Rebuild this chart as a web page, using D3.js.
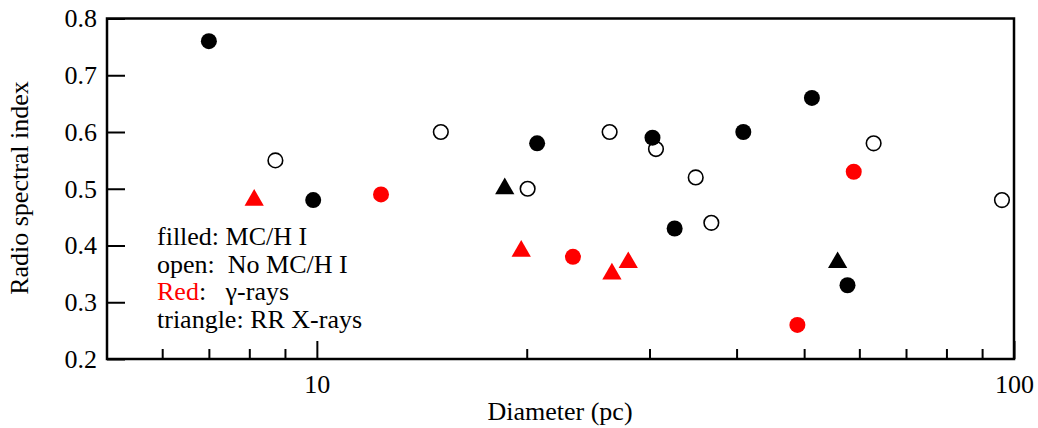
<!DOCTYPE html>
<html>
<head>
<meta charset="utf-8">
<script src="https://cdn.jsdelivr.net/npm/d3@7"></script>
<style>
  body { margin: 0; background: #fff; }
  text { font-family: "Liberation Serif", "Times New Roman", serif; }
</style>
</head>
<body>
<svg id="chart" width="1038" height="428"></svg>
<script>
// Remnants with molecular cloud / H I interaction (filled black circles)
const filledDiameter = [7.0, 9.88, 20.7, 30.3, 32.6, 40.9, 51.3, 57.7];
const filledIndex    = [0.76, 0.48, 0.58, 0.59, 0.43, 0.60, 0.66, 0.33];

// No molecular cloud / H I interaction (open circles)
const openDiameter = [8.72, 15.06, 20.06, 26.3, 30.65, 34.95, 36.8, 62.9, 96.1];
const openIndex    = [0.55, 0.60, 0.50, 0.60, 0.57, 0.52, 0.44, 0.58, 0.48];

// Gamma-ray detected remnants (red circles)
const gammaDiameter = [12.36, 23.3, 48.9, 58.9];
const gammaIndex    = [0.49, 0.38, 0.26, 0.53];

// Gamma-ray detected, recombining-plasma X-rays (red triangles)
const gammaRRDiameter = [8.13, 19.64, 26.5, 27.97];
const gammaRRIndex    = [0.48, 0.39, 0.35, 0.37];

// Recombining-plasma X-rays only (black triangles)
const rrDiameter = [18.6, 55.85];
const rrIndex    = [0.50, 0.37];

const xMajorTicks = [10, 100];
const xMinorTicks = [6, 7, 8, 9, 20, 30, 40, 50, 60, 70, 80, 90];
const yTicks = [0.2, 0.3, 0.4, 0.5, 0.6, 0.7, 0.8];

const legendLines = [
  [{t: "filled: MC/H I", c: "#000"}],
  [{t: "open:  No MC/H I", c: "#000"}],
  [{t: "Red", c: "#ff0000"}, {t: ":   \u03b3-rays", c: "#000"}],
  [{t: "triangle: RR X-rays", c: "#000"}]
];

const plotL = 107, plotR = 1014, plotT = 18.5, plotB = 359;
const svg = d3.select("#chart");

const x = d3.scaleLog().domain([5, 100]).range([plotL, plotR]);
const y = d3.scaleLinear().domain([0.2, 0.8]).range([plotB, plotT]);

const FS = 26;

// x axis: major ticks with labels, minor ticks without
const gx = svg.append("g").attr("transform", `translate(0,${plotB})`);
gx.call(d3.axisBottom(x).tickValues(xMajorTicks).tickFormat(d3.format("d"))
  .tickSizeInner(-18).tickSizeOuter(0).tickPadding(16));
const gxm = svg.append("g").attr("transform", `translate(0,${plotB})`);
gxm.call(d3.axisBottom(x).tickValues(xMinorTicks).tickFormat("")
  .tickSizeInner(-10).tickSizeOuter(0));

const gy = svg.append("g").attr("transform", `translate(${plotL},0)`);
gy.call(d3.axisLeft(y).tickValues(yTicks).tickFormat(d3.format(".1f"))
  .tickSizeInner(-18).tickSizeOuter(0).tickPadding(10));

[gx, gxm, gy].forEach(g => {
  g.select(".domain").remove();
  g.selectAll(".tick line").attr("stroke", "#000").attr("stroke-width", 2);
  g.selectAll(".tick text").attr("fill", "#000").attr("font-size", FS)
    .attr("font-family", '"Liberation Serif", serif');
});

// plot frame
svg.append("rect")
  .attr("x", plotL).attr("y", plotT)
  .attr("width", plotR - plotL).attr("height", plotB - plotT)
  .attr("fill", "none").attr("stroke", "#000").attr("stroke-width", 2.5);

// axis titles
svg.append("text")
  .attr("x", 560).attr("y", 420)
  .attr("text-anchor", "middle").attr("font-size", FS)
  .text("Diameter (pc)");
svg.append("text")
  .attr("transform", "translate(28,188) rotate(-90)")
  .attr("text-anchor", "middle").attr("font-size", FS)
  .text("Radio spectral index");

// markers
const tri = d3.symbol().type(d3.symbolTriangle).size(161);
const pts = (xs, ys) => xs.map((d, i) => ({d, v: ys[i]}));

svg.append("g").selectAll("circle").data(pts(openDiameter, openIndex)).join("circle")
  .attr("cx", p => x(p.d)).attr("cy", p => y(p.v)).attr("r", 7.3)
  .attr("fill", "#fff").attr("stroke", "#000").attr("stroke-width", 1.6);

svg.append("g").selectAll("circle").data(pts(filledDiameter, filledIndex)).join("circle")
  .attr("cx", p => x(p.d)).attr("cy", p => y(p.v)).attr("r", 8).attr("fill", "#000");

svg.append("g").selectAll("circle").data(pts(gammaDiameter, gammaIndex)).join("circle")
  .attr("cx", p => x(p.d)).attr("cy", p => y(p.v)).attr("r", 8).attr("fill", "#ff0000");

svg.append("g").selectAll("path").data(pts(gammaRRDiameter, gammaRRIndex)).join("path")
  .attr("d", tri).attr("transform", p => `translate(${x(p.d)},${y(p.v)})`)
  .attr("fill", "#ff0000");

svg.append("g").selectAll("path").data(pts(rrDiameter, rrIndex)).join("path")
  .attr("d", tri).attr("transform", p => `translate(${x(p.d)},${y(p.v)})`)
  .attr("fill", "#000");

// in-plot key
const key = svg.append("g");
legendLines.forEach((parts, i) => {
  const t = key.append("text")
    .attr("x", 157).attr("y", 245 + i * 27.6)
    .attr("font-size", FS).style("white-space", "pre");
  parts.forEach(p => t.append("tspan").attr("fill", p.c).text(p.t));
});
</script>
</body>
</html>
